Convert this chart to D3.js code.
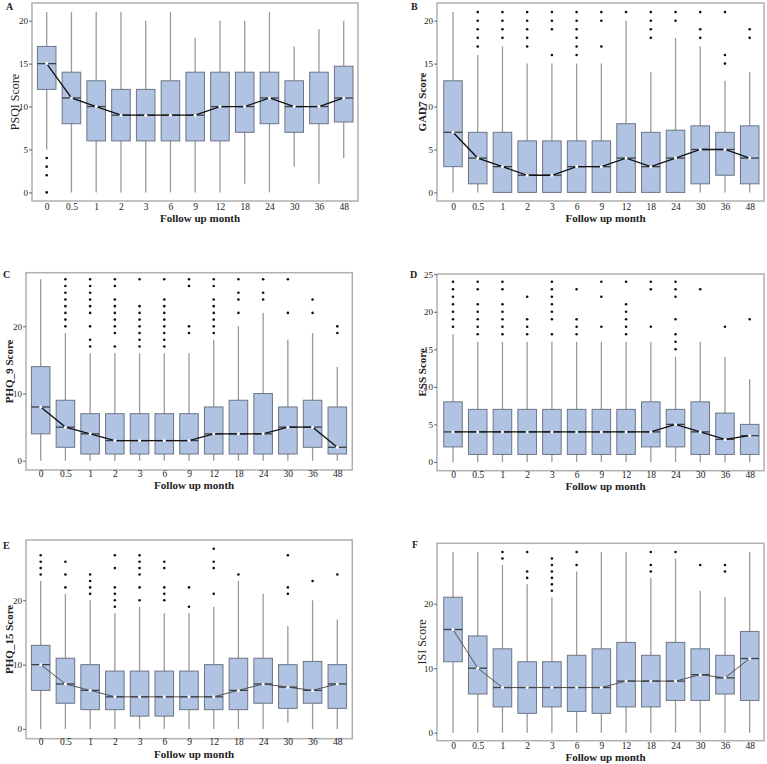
<!DOCTYPE html>
<html>
<head>
<meta charset="utf-8">
<script src="https://cdn.jsdelivr.net/npm/d3@7/dist/d3.min.js"></script>
<style>
  html, body { margin: 0; padding: 0; background: #fff; }
  svg { display: block; font-family: "Liberation Serif", "Times New Roman", serif; }
</style>
</head>
<body>
<svg id="fig" width="767" height="764"></svg>
<script>
// Follow-up months (x categories, shared by all panels)
const months = ['0', '0.5', '1', '2', '3', '6', '9', '12', '18', '24', '30', '36', '48'];

// Each box: [whisker low, Q1, median, Q3, whisker high], one per month
const psqiBoxes = [
  [5, 12, 15, 17, 21], [0, 8, 11, 14, 21], [0, 6, 10, 13, 21], [0, 6, 9, 12, 21],
  [0, 6, 9, 12, 20], [0, 6, 9, 13, 21], [0, 6, 9, 14, 18], [0, 6, 10, 14, 20],
  [1, 7, 10, 14, 20], [0, 8, 11, 14, 21], [3, 7, 10, 13, 17], [1, 8, 10, 14, 19],
  [4, 8.2, 11, 14.7, 20]
];
const psqiOutliers = [[0, 2, 3, 4], [], [], [], [], [], [], [], [], [], [], [], []];

const gad7Boxes = [
  [0, 3, 7, 13, 21], [0, 1, 4, 7, 16], [0, 0, 3, 7, 17], [0, 0, 2, 6, 15],
  [0, 0, 2, 6, 15], [0, 0, 3, 6, 15], [0, 0, 3, 6, 15], [0, 0, 4, 8, 20],
  [0, 0, 3, 7, 14], [0, 0, 4, 7.25, 18], [0, 1, 5, 7.75, 17], [0, 2, 5, 7, 13],
  [0, 1, 4, 7.75, 14]
];
const gad7Outliers = [
  [], [17, 18, 19, 20, 21], [18, 19, 20, 21], [17, 18, 19, 20, 21], [16, 19, 20, 21],
  [16, 17, 18, 19, 20, 21], [17, 20, 21], [21], [18, 19, 20, 21], [20, 21],
  [18, 19, 21], [15, 16, 21], [18, 19]
];

const phq9Boxes = [
  [0, 4, 8, 14, 27], [0, 2, 5, 9, 19], [0, 1, 4, 7, 16], [0, 1, 3, 7, 16],
  [0, 1, 3, 7, 16], [0, 1, 3, 7, 16], [0, 1, 3, 7, 16], [0, 1, 4, 8, 18],
  [0, 1, 4, 9, 20], [0, 1, 4, 10, 22], [0, 1, 5, 8, 18], [0, 2, 5, 9, 19],
  [0, 1, 2, 8, 14]
];
const phq9Outliers = [
  [], [20, 21, 22, 23, 24, 25, 26, 27], [17, 18, 20, 22, 23, 24, 25, 26, 27],
  [17, 19, 20, 21, 22, 23, 24, 26, 27], [17, 18, 19, 20, 21, 22, 23, 27],
  [17, 18, 19, 20, 21, 22, 23, 24, 27], [19, 20, 26, 27], [19, 20, 21, 22, 23, 24, 26, 27],
  [22, 24, 25, 27], [24, 25, 27], [22, 27], [22, 24], [19, 20]
];

const essBoxes = [
  [0, 2, 4, 8, 17], [0, 1, 4, 7, 16], [0, 1, 4, 7, 16], [0, 1, 4, 7, 16],
  [0, 1, 4, 7, 16], [0, 1, 4, 7, 16], [0, 1, 4, 7, 16], [0, 1, 4, 7, 16],
  [0, 2, 4, 8, 16], [0, 2, 5, 7, 14], [0, 1, 4, 8, 16], [0, 1, 3, 6.5, 14],
  [0, 1, 3.5, 5, 11]
];
const essOutliers = [
  [18, 19, 20, 21, 22, 23, 24], [17, 18, 19, 20, 21, 23, 24], [17, 18, 19, 20, 21, 23, 24],
  [17, 18, 19, 22], [17, 19, 20, 21, 22, 23, 24], [17, 18, 19, 23], [18, 22, 24],
  [17, 18, 19, 20, 21, 24], [18, 23, 24], [15, 16, 17, 19, 22, 23, 24], [23], [18], [19]
];

const phq15Boxes = [
  [0, 6, 10, 13, 23], [0, 4, 7, 11, 21], [0, 3, 6, 10, 20], [0, 3, 5, 9, 18],
  [0, 2, 5, 9, 19], [0, 2, 5, 9, 18], [0, 3, 5, 9, 18], [0, 3, 5, 10, 19],
  [0, 3, 6, 11, 23], [0, 4, 7, 11, 21], [1, 3.2, 6.5, 10, 16], [0, 4, 6, 10.5, 20],
  [0, 3.2, 7, 10, 17]
];
const phq15Outliers = [
  [24, 25, 26, 27], [22, 24, 26], [21, 22, 23, 24], [19, 20, 21, 22, 25, 27],
  [20, 22, 24, 25, 26, 27], [20, 21, 22, 25, 26], [19, 22], [21, 25, 26, 28],
  [24], [], [21, 22, 27], [23], [24]
];

const isiBoxes = [
  [0, 11, 16, 21, 28], [0, 6, 10, 15, 28], [0, 4, 7, 13, 26], [0, 3, 7, 11, 23],
  [0, 4, 7, 11, 21], [0, 3.3, 7, 12, 25], [0, 3, 7, 13, 28], [0, 4, 8, 14, 28],
  [0, 4, 8, 12, 24], [0, 5, 8, 14, 27], [0, 5, 9, 13, 22], [0, 6, 8.5, 12, 21],
  [0, 5, 11.5, 15.7, 28]
];
const isiOutliers = [
  [], [], [27, 28], [24, 25, 28], [22, 23, 24, 25, 26, 27], [26, 28], [], [],
  [25, 26, 28], [28], [26], [25, 26], []
];

// Layout of the six panels (frame rectangle, y range, label placement)
const panels = [
  { letter: 'A', title: 'PSQI Score', boxes: psqiBoxes, outliers: psqiOutliers, boldY: false,
    frame: [32, 3, 326, 198], yDomain: [-1.0, 22.06], yTicks: [0, 5, 10, 15, 20],
    xCenters: [46.7, 343.7], letterAt: [6, 10], yLabelX: 15, xLabelDy: 9.5, titleDy: 20.5, line: 1.3 },
  { letter: 'B', title: 'GAD7 Score', boxes: gad7Boxes, outliers: gad7Outliers, boldY: true,
    frame: [437, 3, 327, 198], yDomain: [-1.0, 22.06], yTicks: [0, 5, 10, 15, 20],
    xCenters: [453, 749.7], letterAt: [411, 10], yLabelX: 422, xLabelDy: 9.5, titleDy: 20.5, line: 1.3 },
  { letter: 'C', title: 'PHQ_9 Score', boxes: phq9Boxes, outliers: phq9Outliers, boldY: true,
    frame: [26, 272.7, 326.3, 197.3], yDomain: [-1.38, 27.98], yTicks: [0, 10, 20],
    xCenters: [40.7, 337.3], letterAt: [3, 278], yLabelX: 9, xLabelDy: 7.5, titleDy: 19, line: 1.3 },
  { letter: 'D', title: 'ESS Score', boxes: essBoxes, outliers: essOutliers, boldY: true,
    frame: [437, 274, 327, 196.7], yDomain: [-1.17, 25.03], yTicks: [0, 5, 10, 15, 20, 25],
    xCenters: [453, 749.7], letterAt: [410, 278], yLabelX: 422, xLabelDy: 7.5, titleDy: 19.5, line: 1.3 },
  { letter: 'E', title: 'PHQ_15 Score', boxes: phq15Boxes, outliers: phq15Outliers, boldY: true,
    frame: [26, 540, 326.3, 198.7], yDomain: [-1.51, 29.37], yTicks: [0, 10, 20],
    xCenters: [40.7, 337.3], letterAt: [3, 549], yLabelX: 9, xLabelDy: 7, titleDy: 19, line: 0.9 },
  { letter: 'F', title: 'ISI Score', boxes: isiBoxes, outliers: isiOutliers, boldY: false,
    frame: [437, 543.3, 327, 197.4], yDomain: [-1.24, 29.36], yTicks: [0, 10, 20],
    xCenters: [453, 749.7], letterAt: [412, 548], yLabelX: 422, xLabelDy: 8.5, titleDy: 20, line: 0.9 }
];

const BOX_FILL = '#b1c3e3';
const BOX_STROKE = '#6b7585';
const WHISKER = '#9a9a9a';
const FRAME = '#b0b0b0';
const SERIF = '"Liberation Serif", "Times New Roman", serif';

const svg = d3.select('#fig');

panels.forEach((p) => {
  const [fx, fy, fw, fh] = p.frame;
  const g = svg.append('g');

  const x = d3.scalePoint().domain(months).range(p.xCenters);
  const y = d3.scaleLinear().domain(p.yDomain).range([fy + fh, fy]);
  const boxW = x.step() * 0.75;

  // whiskers behind the boxes
  g.selectAll('line.whisker').data(p.boxes).join('line')
    .attr('class', 'whisker')
    .attr('x1', (d, i) => x(months[i])).attr('x2', (d, i) => x(months[i]))
    .attr('y1', (d) => y(d[0])).attr('y2', (d) => y(d[4]))
    .attr('stroke', WHISKER).attr('stroke-width', 1.3);

  g.selectAll('rect.box').data(p.boxes).join('rect')
    .attr('class', 'box')
    .attr('x', (d, i) => x(months[i]) - boxW / 2).attr('width', boxW)
    .attr('y', (d) => y(d[3])).attr('height', (d) => y(d[1]) - y(d[3]))
    .attr('fill', BOX_FILL).attr('stroke', BOX_STROKE).attr('stroke-width', 1);

  g.selectAll('line.median').data(p.boxes).join('line')
    .attr('class', 'median')
    .attr('x1', (d, i) => x(months[i]) - boxW / 2).attr('x2', (d, i) => x(months[i]) + boxW / 2)
    .attr('y1', (d) => y(d[2])).attr('y2', (d) => y(d[2]))
    .attr('stroke', '#3a3f48').attr('stroke-width', 1.3);

  // outliers
  const pts = [];
  p.outliers.forEach((vals, i) => vals.forEach((v) => pts.push([months[i], v])));
  g.selectAll('circle.out').data(pts).join('circle')
    .attr('class', 'out')
    .attr('cx', (d) => x(d[0])).attr('cy', (d) => y(d[1]))
    .attr('r', 1.3).attr('fill', '#111');

  // line through medians
  const medLine = d3.line().x((d, i) => x(months[i])).y((d) => y(d[2]));
  g.append('path').datum(p.boxes)
    .attr('d', medLine).attr('fill', 'none')
    .attr('stroke', p.line < 1 ? '#444' : '#111').attr('stroke-width', p.line);

  g.selectAll('circle.med').data(p.boxes).join('circle')
    .attr('class', 'med')
    .attr('cx', (d, i) => x(months[i])).attr('cy', (d) => y(d[2]))
    .attr('r', 1.5).attr('fill', '#fff');

  // frame
  g.append('rect')
    .attr('x', fx).attr('y', fy).attr('width', fw).attr('height', fh)
    .attr('fill', 'none').attr('stroke', FRAME).attr('stroke-width', 1.5);

  // y axis
  const yAxis = g.append('g').attr('transform', `translate(${fx},0)`)
    .call(d3.axisLeft(y).tickValues(p.yTicks).tickSize(3).tickPadding(1));
  yAxis.select('.domain').remove();
  yAxis.selectAll('line').attr('stroke', '#666');
  yAxis.selectAll('text').attr('font-family', SERIF)
    .attr('font-size', 9).attr('fill', '#222');

  // x axis
  const xAxis = g.append('g').attr('transform', `translate(0,${fy + fh})`)
    .call(d3.axisBottom(x).tickSize(0).tickPadding(p.xLabelDy - 7));
  xAxis.select('.domain').remove();
  xAxis.selectAll('text').attr('font-family', SERIF)
    .attr('font-size', 9.5).attr('fill', '#222');

  g.append('text')
    .attr('x', fx + fw / 2 + 5).attr('y', fy + fh + p.titleDy)
    .attr('text-anchor', 'middle').attr('font-weight', 'bold')
    .attr('font-family', SERIF).attr('font-size', 11).attr('fill', '#222')
    .text('Follow up month');

  const yMid = fy + fh / 2;
  g.append('text')
    .attr('transform', `translate(${p.yLabelX},${yMid}) rotate(-90)`)
    .attr('text-anchor', 'middle').attr('dy', '0.35em')
    .attr('font-family', SERIF)
    .attr('font-weight', p.boldY ? 'bold' : 'normal')
    .attr('font-size', p.boldY ? 11 : 12).attr('fill', '#222')
    .text(p.title);

  g.append('text')
    .attr('x', p.letterAt[0]).attr('y', p.letterAt[1])
    .attr('font-family', SERIF)
    .attr('font-weight', 'bold').attr('font-size', 10).attr('fill', '#222')
    .text(p.letter);
});
</script>
</body>
</html>
